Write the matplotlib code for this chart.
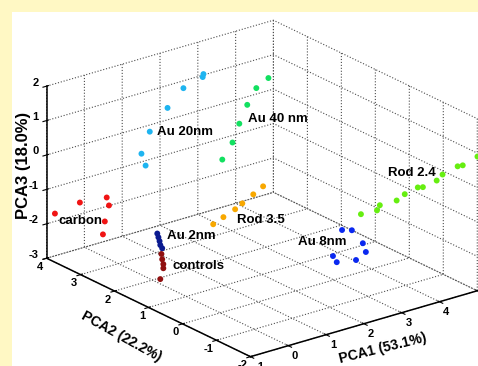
import numpy as np
import matplotlib
matplotlib.use("Agg")
import matplotlib.pyplot as plt
from matplotlib.patches import Rectangle

plt.rcParams["font.family"] = ["Liberation Sans", "DejaVu Sans"]
plt.rcParams["font.weight"] = "bold"
plt.rcParams["axes.unicode_minus"] = False
plt.rcParams["grid.color"] = "0.3"
plt.rcParams["grid.linestyle"] = ":"
plt.rcParams["grid.linewidth"] = 0.8

# PCA scores per group (PCA1, PCA2, PCA3)
carbon_1 = [-0.96, -0.30, 0.41, 0.47, 0.36, 0.31]
carbon_2 = [3.8, 3.8, 3.8, 3.8, 3.8, 3.8]
carbon_3 = [-1.62, -1.51, -1.59, -1.84, -2.27, -2.63]

au20_1 = [0.83, 0.61, 0.72, 1.30, 1.72, 2.23, 2.25]
au20_2 = [3.0, 3.0, 3.0, 3.0, 3.0, 3.0, 3.0]
au20_3 = [0.57, 0.00, -0.38, 1.11, 1.55, 1.71, 1.79]

au40_1 = [1.85, 2.12, 2.30, 2.51, 2.75, 3.07]
au40_2 = [2.0, 2.0, 2.0, 2.0, 2.0, 2.0]
au40_3 = [-0.09, 0.32, 0.81, 1.29, 1.70, 1.89]

rod24_1 = [3.72, 4.01, 3.95, 4.26, 4.34, 4.55, 4.55, 4.78, 4.80, 4.93, 4.93, 5.05]
rod24_2 = [0.0, -0.15, -0.3, -0.45, -0.6, -0.75, -0.9, -1.05, -1.2, -1.5, -1.65, -1.95]
rod24_3 = [-1.32, -1.23, -0.99, -0.88, -0.65, -0.45, -0.37, -0.18, 0.06, 0.40, 0.50, 0.86]

rod35_1 = [1.16, 1.43, 1.74, 1.93, 2.22, 2.48]
rod35_2 = [1.5, 1.5, 1.5, 1.5, 1.5, 1.5]
rod35_3 = [-1.51, -1.39, -1.26, -1.15, -0.98, -0.83]

au8_1 = [3.22, 3.48, 3.77, 3.85, 2.98, 3.08, 3.59]
au8_2 = [0.0, 0.0, 0.0, 0.0, 0.0, 0.0, 0.0]
au8_3 = [-1.62, -1.71, -2.18, -2.46, -2.30, -2.51, -2.61]

au2_1 = [0.13, 0.16, 0.19, 0.21, 0.26]
au2_2 = [2.0, 2.0, 2.0, 2.0, 2.0]
au2_3 = [-1.69, -1.81, -1.93, -2.05, -2.16]

ctrl_1 = [0.24, 0.26, 0.29, 0.29, -0.06]
ctrl_2 = [2.0, 2.0, 2.0, 2.0, 1.7]
ctrl_3 = [-2.32, -2.48, -2.63, -2.75, -2.81]

groups = [
    ("carbon", carbon_1, carbon_2, carbon_3, "#f01414"),
    ("Au 20nm", au20_1, au20_2, au20_3, "#1eb4f0"),
    ("Au 40 nm", au40_1, au40_2, au40_3, "#12e060"),
    ("Rod 2.4", rod24_1, rod24_2, rod24_3, "#66ee10"),
    ("Rod 3.5", rod35_1, rod35_2, rod35_3, "#f8a800"),
    ("Au 8nm", au8_1, au8_2, au8_3, "#0a28f0"),
    ("Au 2nm", au2_1, au2_2, au2_3, "#0a1a90"),
    ("controls", ctrl_1, ctrl_2, ctrl_3, "#901010"),
]

# label anchor points (left edge of text)
label_text = ["Au 20nm", "Au 40 nm", "Rod 2.4", "Rod 3.5", "Au 8nm", "Au 2nm", "controls", "carbon"]
label_1 = [1.01, 2.54, 3.53, 1.80, 2.05, 0.40, 0.53, -0.86]
label_2 = [3.0, 2.0, -1.0, 1.5, 0.0, 2.0, 2.0, 3.8]
label_3 = [0.51, 0.88, 0.40, -1.60, -1.60, -1.86, -2.76, -1.88]

x_ticks = [-1, 0, 1, 2, 3, 4, 5]
x_ticklabels = ["-1", "0", "1", "2", "3", "4", ""]
y_ticks = [-2, -1, 0, 1, 2, 3, 4]
z_ticks = [-3, -2, -1, 0, 1, 2]

fig = plt.figure(figsize=(4.78, 3.66), dpi=100)
fig.patch.set_facecolor("#fff8c4")
fig.patches.append(Rectangle((12 / 478, 0), 466 / 478, 354 / 366, transform=fig.transFigure,
                             facecolor="white", edgecolor="none", zorder=-1))

ax = fig.add_axes([18 / 478, -10.4 / 366, 1.0, 1.0], projection="3d")
ax.set_facecolor("none")
ax.set_proj_type("ortho")
ax.view_init(elev=22, azim=-127.8)
ax.set_box_aspect((288.6, 334.4, 186.6), zoom=1.265)

for name, p1, p2, p3, col in groups:
    ax.scatter(p1, p2, p3, s=18, c=col, edgecolors="none", depthshade=False, clip_on=False)

for t, a, b, c in zip(label_text, label_1, label_2, label_3):
    ax.text(a, b, c, t, ha="left", va="center", fontsize=9.5, fontweight="bold")

ax.set_xlim(-1, 5)
ax.set_ylim(-2, 4)
ax.set_zlim(-3, 2)
ax.set_xticks(x_ticks)
ax.set_xticklabels(x_ticklabels)
ax.set_yticks(y_ticks)
ax.set_zticks(z_ticks)
ax.tick_params(labelsize=8)
ax.tick_params(axis="x", pad=-5.5)
ax.tick_params(axis="y", pad=-6)
ax.tick_params(axis="z", pad=-5.5)
for lab in ax.get_xticklabels():
    lab.set_ha("left")
for lab in ax.get_yticklabels():
    lab.set_ha("right")
for lab in ax.get_zticklabels():
    lab.set_ha("right")
    lab.set_va("baseline")

ax.xaxis.set_rotate_label(False)
ax.yaxis.set_rotate_label(False)
ax.set_xlabel("PCA1 (53.1%)", fontsize=10, fontweight="bold", rotation=14, labelpad=-8.5)
ax.set_ylabel("PCA2 (22.2%)", fontsize=10, fontweight="bold", rotation=-29, labelpad=-4.5)
# z label placed by hand, mplot3d puts it too high on this view
fig.text(24 / 478, 1 - 165 / 366, "PCA3 (18.0%)", rotation=90, ha="center", va="center",
         fontsize=12, fontweight="bold")

for axis in (ax.xaxis, ax.yaxis, ax.zaxis):
    axis.set_pane_color((1, 1, 1, 0))
    axis.line.set_linewidth(1.1)
ax.zaxis.pane.set_edgecolor("0.25")

fig.savefig("out.png", dpi=100, facecolor=fig.get_facecolor())
